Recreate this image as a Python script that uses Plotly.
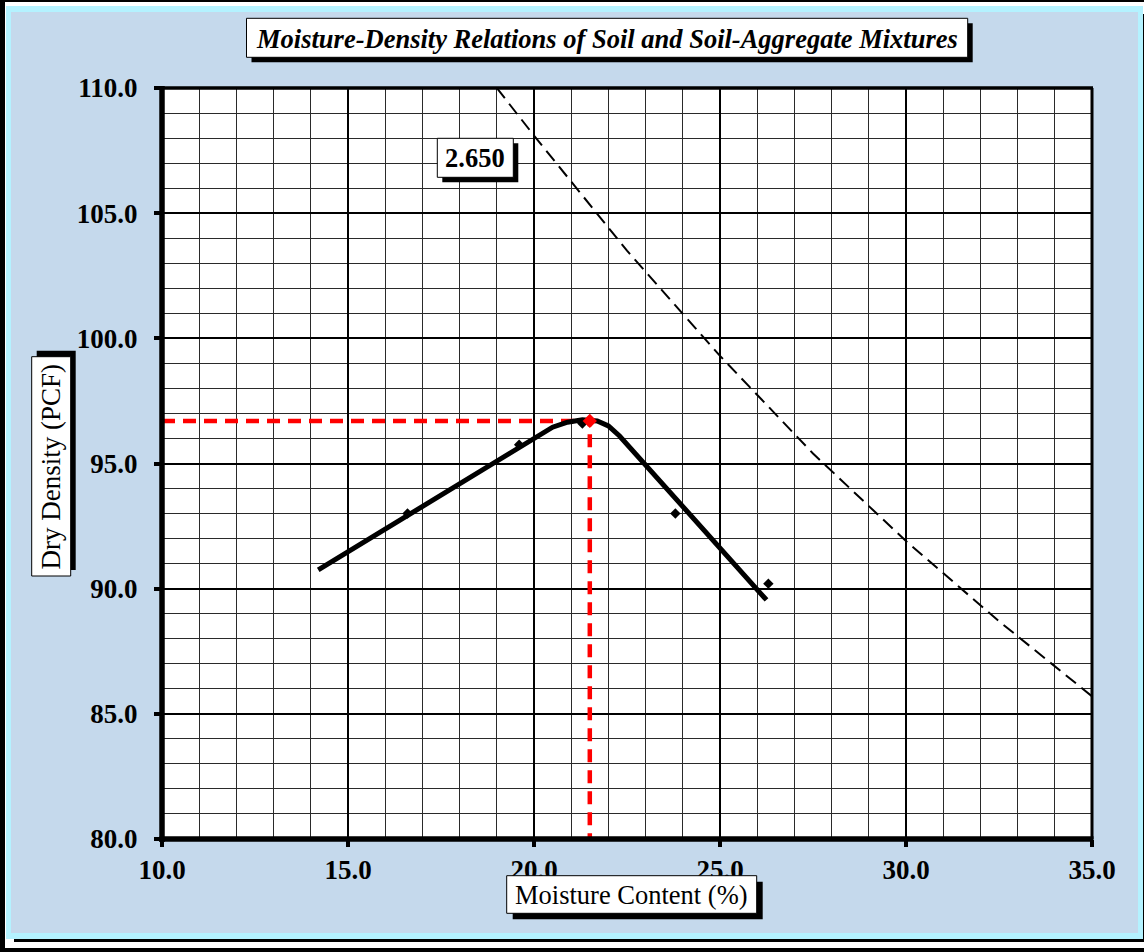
import plotly.graph_objects as go

# Figure geometry (pixels)
W, H = 1144, 952
ML, MR, MT, MB = 162, 52, 88, 113
PW, PH = W - ML - MR, H - MT - MB


def px(x):
    return (x - ML) / PW


def py(y):
    return (H - MB - y) / PH


# ---- data ----
x_range = [10, 35]
y_range = [80, 110]

test_moisture = [16.6, 19.6, 21.3, 23.8, 26.3]
test_density = [93.0, 95.75, 96.6, 93.0, 90.2]

curve_moisture = [14.2, 20.5, 20.9, 21.3, 21.7, 22.0, 22.3, 26.25]
curve_density = [90.75, 96.45, 96.65, 96.75, 96.7, 96.5, 96.1, 89.55]

zav_moisture = [19.0, 20.0, 22.5, 25.0, 27.5, 30.0, 32.5, 35.0]
zav_density = [110.0, 108.1, 103.5, 99.3, 95.4, 91.9, 88.7, 85.7]

optimum_moisture = 21.5
max_density = 96.7
specific_gravity = "2.650"

title_text = "Moisture-Density Relations of Soil and Soil-Aggregate Mixtures"
x_title = "Moisture Content (%)"
y_title = "Dry Density (PCF)"

BLUE = "#C5D9EC"
CYAN = "#B4F2FF"
SERIF = "Liberation Serif"

fig = go.Figure()

# zero-air-voids line
fig.add_trace(go.Scatter(
    x=zav_moisture, y=zav_density, mode="lines",
    line=dict(color="black", width=2, dash="13px,7px"),
    hoverinfo="skip", showlegend=False))

# optimum moisture / maximum density guides
fig.add_trace(go.Scatter(
    x=[x_range[0], optimum_moisture, optimum_moisture],
    y=[max_density, max_density, y_range[0]], mode="lines",
    line=dict(color="#FF0000", width=4.5, dash="13px,8px"),
    hoverinfo="skip", showlegend=False))

# compaction curve
fig.add_trace(go.Scatter(
    x=curve_moisture, y=curve_density, mode="lines",
    line=dict(color="black", width=5),
    hoverinfo="skip", showlegend=False))

# test points
fig.add_trace(go.Scatter(
    x=test_moisture, y=test_density, mode="markers",
    marker=dict(symbol="diamond", size=8, color="black"),
    showlegend=False))

# peak
fig.add_trace(go.Scatter(
    x=[optimum_moisture], y=[max_density], mode="markers",
    marker=dict(symbol="diamond", size=11, color="#FF0000"),
    showlegend=False))


def rect(x0, y0, x1, y1, fill, layer="below", line_color=None, line_width=0):
    return dict(type="rect", xref="paper", yref="paper",
                x0=px(x0), x1=px(x1), y0=py(y1), y1=py(y0),
                fillcolor=fill, layer=layer,
                line=dict(color=line_color or fill, width=line_width))


def seg(x0, y0, x1, y1, width):
    return dict(type="line", xref="paper", yref="paper",
                x0=px(x0), x1=px(x1), y0=py(y0), y1=py(y1),
                layer="above", line=dict(color="black", width=width))


shapes = [
    rect(0, 0, W, H, "black"),
    rect(5, 2, W + 10, 948, "white"),
    rect(14, 14, W + 10, 942, "black"),
    rect(6, 6, 1143, 939, CYAN),
    rect(11, 12, 1138, 933, BLUE),
    rect(ML, MT, W - MR, H - MB, "white"),
    # plot frame
    seg(ML, MT, W - MR + 1, MT, 3.5),
    seg(W - MR, MT, W - MR, H - MB, 3),
    seg(ML, MT - 2, ML, H - MB + 3, 5.5),
    seg(ML - 2.5, H - MB, W - MR + 1.5, H - MB, 5.5),
]

# text boxes with drop shadows
boxes = [
    (246.5, 18.3, 967.7, 57.3, 5, 5),     # chart title
    (437.3, 138.3, 513.3, 177.3, 5, 5),   # specific gravity label
    (506.7, 875.7, 756.7, 913.3, 6, 6),   # x title
    (31.7, 356.7, 70.7, 576.0, 5, -6),    # y title (rotated)
]
for x0, y0, x1, y1, dx, dy in boxes:
    shapes.append(rect(x0 + dx, y0 + dy, x1 + dx, y1 + dy, "black", layer="above"))
    shapes.append(rect(x0, y0, x1, y1, "white", layer="above",
                       line_color="black", line_width=1))


def label(text, cx, cy, size, weight="normal", style="normal", angle=0):
    return dict(text=text, xref="paper", yref="paper", x=px(cx), y=py(cy),
                xanchor="center", yanchor="middle", showarrow=False,
                textangle=angle,
                font=dict(family=SERIF, size=size, color="black",
                          weight=weight, style=style))


annotations = [
    label(title_text, 607.1, 38.5, 26.5, weight="bold", style="italic"),
    label(specific_gravity, 475.3, 158.5, 26.5, weight="bold"),
    label(x_title, 631.7, 895.0, 26.5),
    label(y_title, 51.2, 466.3, 27, angle=-90),
]

axis_common = dict(
    showline=False, zeroline=False, ticks="outside", ticklen=7, tickwidth=4,
    tickcolor="black", showgrid=True, gridcolor="black", gridwidth=2,
    tickformat=".1f", dtick=5,
    tickfont=dict(family=SERIF, size=27, color="black", weight="bold"),
    minor=dict(dtick=1, showgrid=True, gridcolor="#2a2a2a", gridwidth=1, ticks=""),
)

fig.update_layout(
    width=W, height=H,
    margin=dict(l=ML, r=MR, t=MT, b=MB, pad=0),
    paper_bgcolor="white", plot_bgcolor="white",
    xaxis=dict(range=x_range, tick0=10, ticklabelstandoff=0, **axis_common),
    yaxis=dict(range=y_range, tick0=80, ticklabelstandoff=11, **axis_common),
    shapes=shapes, annotations=annotations, showlegend=False,
)

fig.write_html("out.html")
